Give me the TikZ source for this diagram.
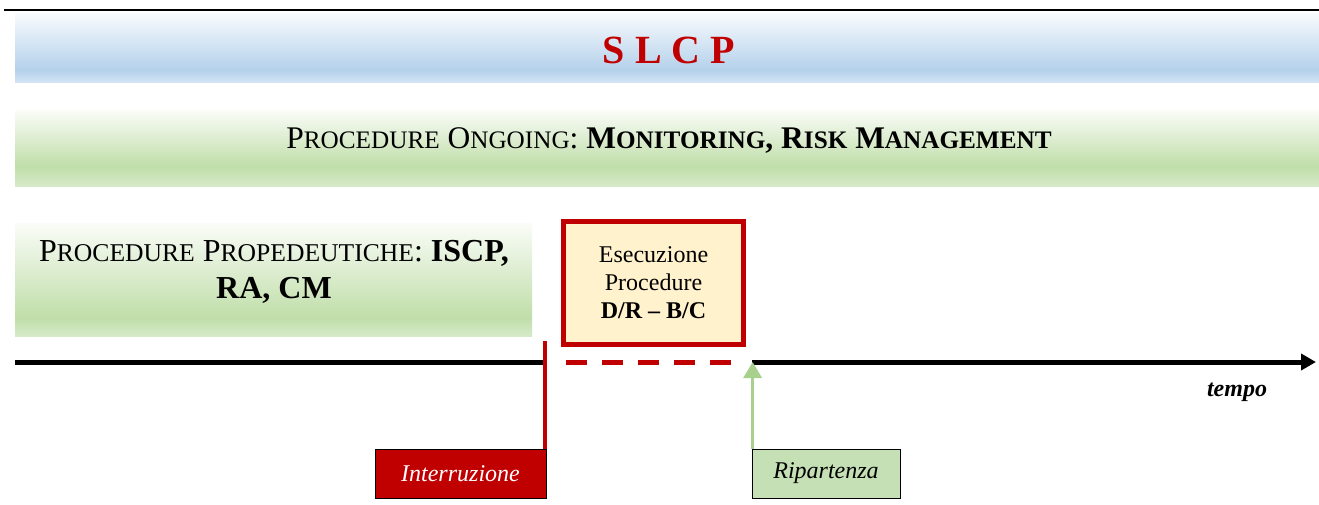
\documentclass[tikz,border=0pt]{standalone}
\usepackage{fontspec}
\setmainfont{Liberation Serif}
\usepackage{tikz}
\usetikzlibrary{arrows.meta,positioning}

\definecolor{slcpred}{HTML}{C00000}
\definecolor{bandblue}{HTML}{B4D1EB}
\definecolor{bandblueend}{HTML}{D3E4F4}
\definecolor{bandgreen}{HTML}{C0DEA9}
\definecolor{bandgreenend}{HTML}{D6EAC9}
\definecolor{execfill}{HTML}{FFF2CC}
\definecolor{restartfill}{HTML}{C5E0B4}
\definecolor{restartarrow}{HTML}{A9D18E}

% fake small caps: smaller capitals
\makeatletter
\newcommand{\sk}[1]{{\fontsize{\the\dimexpr 0.8\dimexpr\f@size pt\relax\relax}{\baselineskip}\selectfont #1}}
\makeatother

\begin{document}
\begin{tikzpicture}[
		x=1pt, y=-1pt,
		band/.style={inner sep=0pt, align=center},
		tag/.style={draw=black, line width=0.8pt, minimum width=171pt,
			minimum height=49pt, inner sep=0pt,
			font=\fontsize{24}{28}\selectfont\itshape},
		timeline/.style={line width=5pt},
		]
	\useasboundingbox (0,0) rectangle (1319,504);
	
	% bands
	\draw[line width=2pt] (4,10) -- (1319,10);
	\shade[top color=white!60!bandblue!20, bottom color=bandblue] (15,13) rectangle (1319,70);
	\shade[top color=bandblue, bottom color=bandblueend] (15,70) rectangle (1319,82);
	\shade[top color=white!60!bandgreen!20, bottom color=bandgreen] (15,110) rectangle (1319,166);
	\shade[top color=bandgreen, bottom color=bandgreenend] (15,166) rectangle (1319,186);
	\shade[top color=white!60!bandgreen!20, bottom color=bandgreen] (15,223) rectangle (532,318);
	\shade[top color=bandgreen, bottom color=bandgreenend] (15,318) rectangle (532,336);
	
	\node[band, text=slcpred, font=\fontsize{40}{46}\selectfont\bfseries] (title) at (669,50) {S L C P};
	\node[band, font=\fontsize{31.5}{36}\selectfont] (ongoing) at (669,141)
	{P\sk{ROCEDURE} O\sk{NGOING}: \textbf{M\sk{ONITORING}, R\sk{ISK} M\sk{ANAGEMENT}}};
	\node[band, font=\fontsize{32}{37}\selectfont] (prop) at (274,272)
	{P\sk{ROCEDURE} P\sk{ROPEDEUTICHE}: \textbf{ISCP,}\\\textbf{RA, CM}};
	
	% execution box
	\node[draw=slcpred, line width=5pt, fill=execfill, minimum width=180pt,
		minimum height=123pt, inner sep=0pt, align=center,
		font=\fontsize{24}{28}\selectfont] (exec) at (653.5,283)
	{Esecuzione\\Procedure\\\textbf{D/R -- B/C}};
	
	% timeline
	\coordinate (t0) at (15,362);
	\coordinate (tstop) at (543,362);
	\coordinate (dash0) at (566,362);
	\coordinate (dash1) at (740,362);
	\coordinate (tgo) at (752,362);
	\coordinate (tend) at (1316,362);
	\draw[timeline] (t0) -- (tstop);
	\draw[timeline, slcpred, dash pattern=on 21pt off 15pt] (dash0) -- (dash1);
	\draw[timeline, -{Triangle[length=15pt,width=16pt]}] (tgo) -- (tend);
	\node[font=\fontsize{24}{28}\selectfont\bfseries\itshape] (tempo) at (1237,392) {tempo};
	
	% interruption and restart
	\node[tag, fill=slcpred, text=white] (stop) at (460.5,473.5) {Interruzione};
	\node[tag, fill=restartfill, minimum width=148pt] (restart) at (826,473.5) {Ripartenza};
	\draw[slcpred, line width=4.5pt] ([xshift=-1.5pt]stop.north east) -- ++(0,-108);
	\draw[restartarrow, line width=3.5pt, -{Triangle[length=16pt,width=18pt]}]
		([xshift=1pt]restart.north west) -- ([xshift=1pt]restart.north west |- tgo);
	
\end{tikzpicture}
\end{document}
